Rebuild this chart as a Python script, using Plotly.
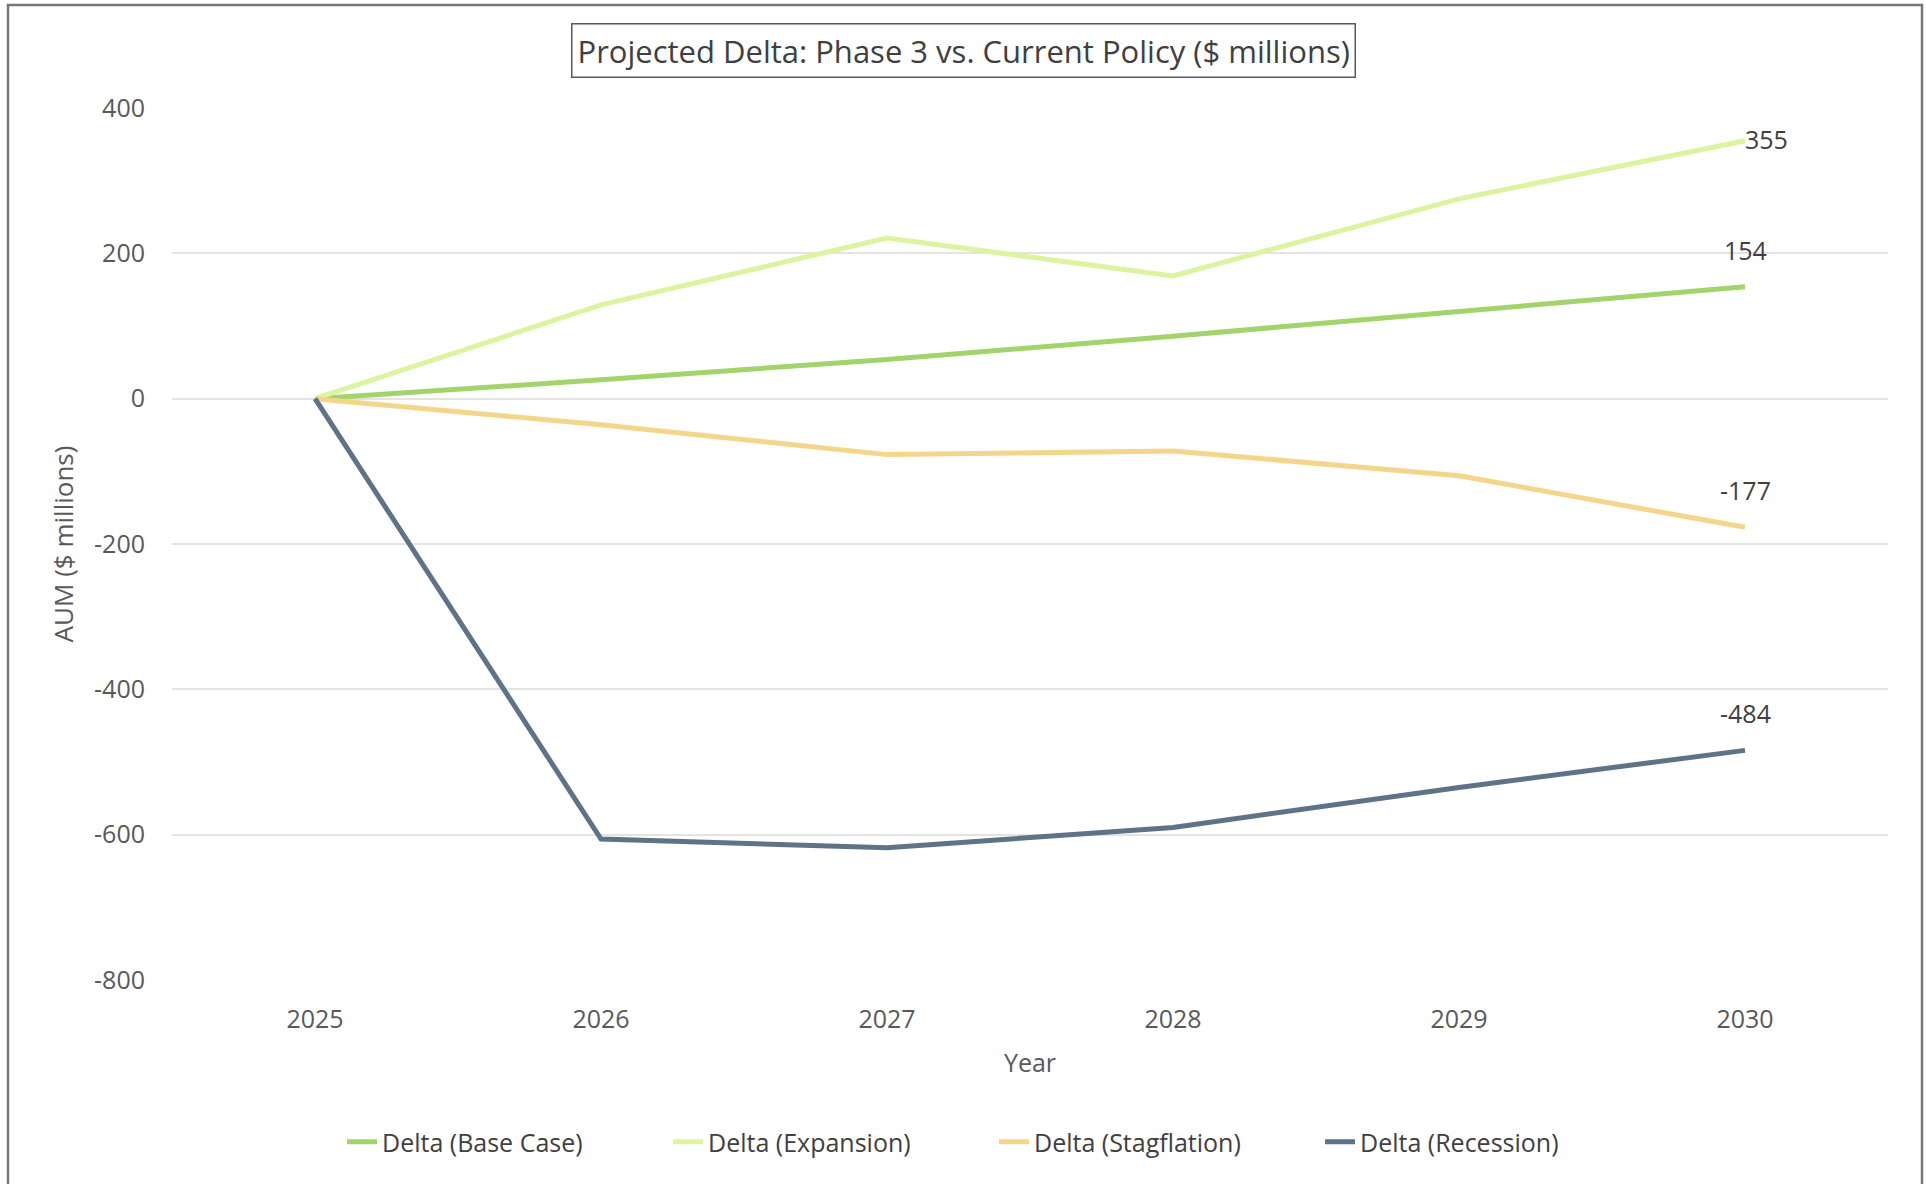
import plotly.graph_objects as go

# Projected AUM delta by scenario, $ millions
years = ["2025", "2026", "2027", "2028", "2029", "2030"]
base_case = [0, 26, 54, 86, 120, 154]
expansion = [0, 129, 221, 169, 275, 355]
stagflation = [0, -36, -77, -72, -106, -177]
recession = [0, -606, -618, -590, -535, -484]

y_ticks = [400, 200, 0, -200, -400, -600, -800]
y_tick_text = [str(v) for v in y_ticks]

series = [
    ("Delta (Base Case)", base_case, "#a3d46c"),
    ("Delta (Expansion)", expansion, "#dcf3a0"),
    ("Delta (Stagflation)", stagflation, "#f4d68b"),
    ("Delta (Recession)", recession, "#5e7288"),
]

W, H = 1926, 1184
L, R, T, B = 172, 38, 108, 204
pw, ph = W - L - R, H - T - B

TICK_FONT = "Open Sans, DejaVu Sans, sans-serif"
TEXT_FONT = "Open Sans, sans-serif"

fig = go.Figure()
for name, vals, color in series:
    fig.add_trace(go.Scatter(
        x=years, y=vals, name=name, mode="lines",
        line=dict(color=color, width=5),
    ))

# End-of-line value labels (category axis: x given as the category index)
last_idx = len(years) - 1
top_end = max(s[1][-1] for s in series)
for name, vals, color in series:
    if vals[-1] == top_end:
        fig.add_annotation(x=last_idx, y=vals[-1], text=f"{vals[-1]:.0f}",
                           showarrow=False, xanchor="left", yanchor="middle",
                           xshift=-2, yshift=2,
                           font=dict(family=TICK_FONT, size=25, color="#404040"))
    else:
        fig.add_annotation(x=last_idx, y=vals[-1], text=f"{vals[-1]:.0f}",
                           showarrow=False, xanchor="center", yanchor="middle",
                           yshift=37,
                           font=dict(family=TICK_FONT, size=25, color="#404040"))

fig.update_layout(
    width=W, height=H,
    margin=dict(l=L, r=R, t=T, b=B),
    paper_bgcolor="white", plot_bgcolor="white",
    showlegend=True,
    legend=dict(
        orientation="h", x=(W / 2 - L + 31) / pw, xanchor="center",
        y=-(1142 - (T + ph)) / ph, yanchor="middle",
        font=dict(family=TEXT_FONT, size=25, color="#404040"),
        entrywidth=281, entrywidthmode="pixels",
    ),
    xaxis=dict(
        type="category", range=[-0.5, 5.5],
        showgrid=False, zeroline=False, showline=False, ticks="",
        tickfont=dict(family=TICK_FONT, size=25, color="#595959"),
        ticklabelstandoff=22,
        title=dict(text="Year", font=dict(family=TICK_FONT, size=25, color="#595959"),
                   standoff=20),
    ),
    yaxis=dict(
        range=[-800, 400], tickvals=y_ticks, ticktext=y_tick_text,
        showgrid=True, gridcolor="#e3e3e3", gridwidth=1.5,
        zeroline=False, showline=False, ticks="",
        tickfont=dict(family=TICK_FONT, size=25, color="#595959"),
        ticklabelstandoff=26,
        title=dict(text="AUM ($ millions)", font=dict(family=TEXT_FONT, size=26, color="#595959"),
                   standoff=12),
    ),
)

# Chart title in a bordered box, centred on the full chart area
fig.add_annotation(
    text="Projected Delta: Phase 3 vs. Current Policy ($ millions)",
    xref="paper", yref="paper",
    x=(W / 2 - L) / pw, y=1 + (T - 50) / ph,
    xanchor="center", yanchor="middle", showarrow=False,
    font=dict(family=TEXT_FONT, size=31, color="#404040"),
    bordercolor="#595959", borderwidth=1.5, borderpad=5, bgcolor="white",
)

# Outer chart frame
fig.add_shape(
    type="rect", xref="paper", yref="paper",
    x0=(8 - L) / pw, x1=(1922 - L) / pw,
    y0=1 + (T - 1200) / ph, y1=1 + (T - 5) / ph,
    line=dict(color="#767676", width=2.5), fillcolor="rgba(0,0,0,0)",
    layer="below",
)

fig.write_html("out.html")
